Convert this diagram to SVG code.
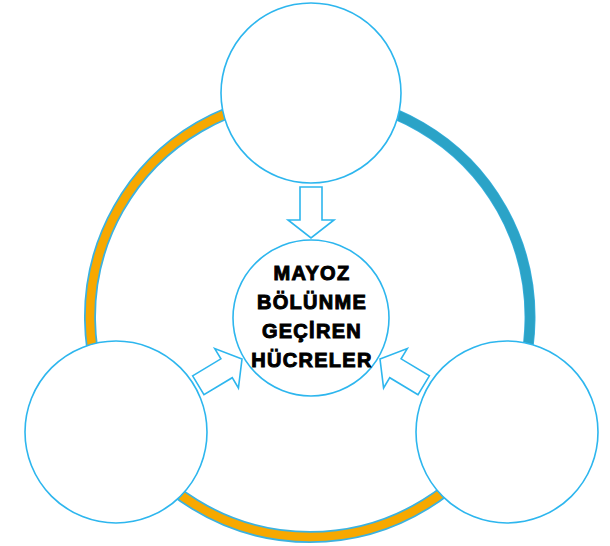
<svg xmlns="http://www.w3.org/2000/svg" width="610" height="546" viewBox="0 0 610 546">
<style>
.edge{fill:none;stroke:#3BB2E0;stroke-width:12}
.orange{fill:none;stroke:#F7A800;stroke-width:8.5}
.teal{fill:none;stroke:#2BA3C7;stroke-width:9.5}
.node{fill:#FFFFFF;stroke:#2DB6EE;stroke-width:1.6}
.arrow{fill:#FFFFFF;stroke:#2DB6EE;stroke-width:1.6;stroke-linejoin:miter}
.label{font-family:"Liberation Sans",Arial,sans-serif;font-weight:bold;font-size:20px;letter-spacing:1.3px;fill:#000;stroke:#000;stroke-width:1;text-anchor:middle}
</style>
<defs>
<polygon id="blockArrow" points="-51,-11 -18,-11 -18,-23 0,0 -18,23 -18,11 -51,11"/>
</defs>
<g id="ring">
<path class="edge" d="M310,97 A220,220 0 0 0 121.4,430.3"/>
<path class="orange" d="M310,97 A220,220 0 0 0 121.4,430.3"/>
<path class="edge" d="M121.4,430.3 A220,220 0 0 0 498.6,430.3"/>
<path class="orange" d="M121.4,430.3 A220,220 0 0 0 498.6,430.3"/>
<path class="edge" d="M498.6,430.3 A220,220 0 0 0 310,97" style="stroke-width:11"/>
<path class="teal" d="M498.6,430.3 A220,220 0 0 0 310,97"/>
</g>
<g id="node-top"><circle class="node" cx="311" cy="93" r="90"/></g>
<g id="node-left"><circle class="node" cx="116" cy="432" r="91"/></g>
<g id="node-right"><circle class="node" cx="507" cy="432" r="91"/></g>
<g id="node-center">
<circle class="node" cx="311" cy="318" r="78"/>
<text class="label" x="312" y="280">MAYOZ</text>
<text class="label" x="312" y="309">BÖLÜNME</text>
<text class="label" x="312" y="338">GEÇİREN</text>
<text class="label" x="312" y="367">HÜCRELER</text>
</g>
<g id="connectors">
<use href="#blockArrow" class="arrow" transform="translate(311,238) rotate(90)"/>
<use href="#blockArrow" class="arrow" transform="translate(242,359) rotate(-31)"/>
<use href="#blockArrow" class="arrow" transform="translate(380,359) rotate(211)"/>
</g>
</svg>
